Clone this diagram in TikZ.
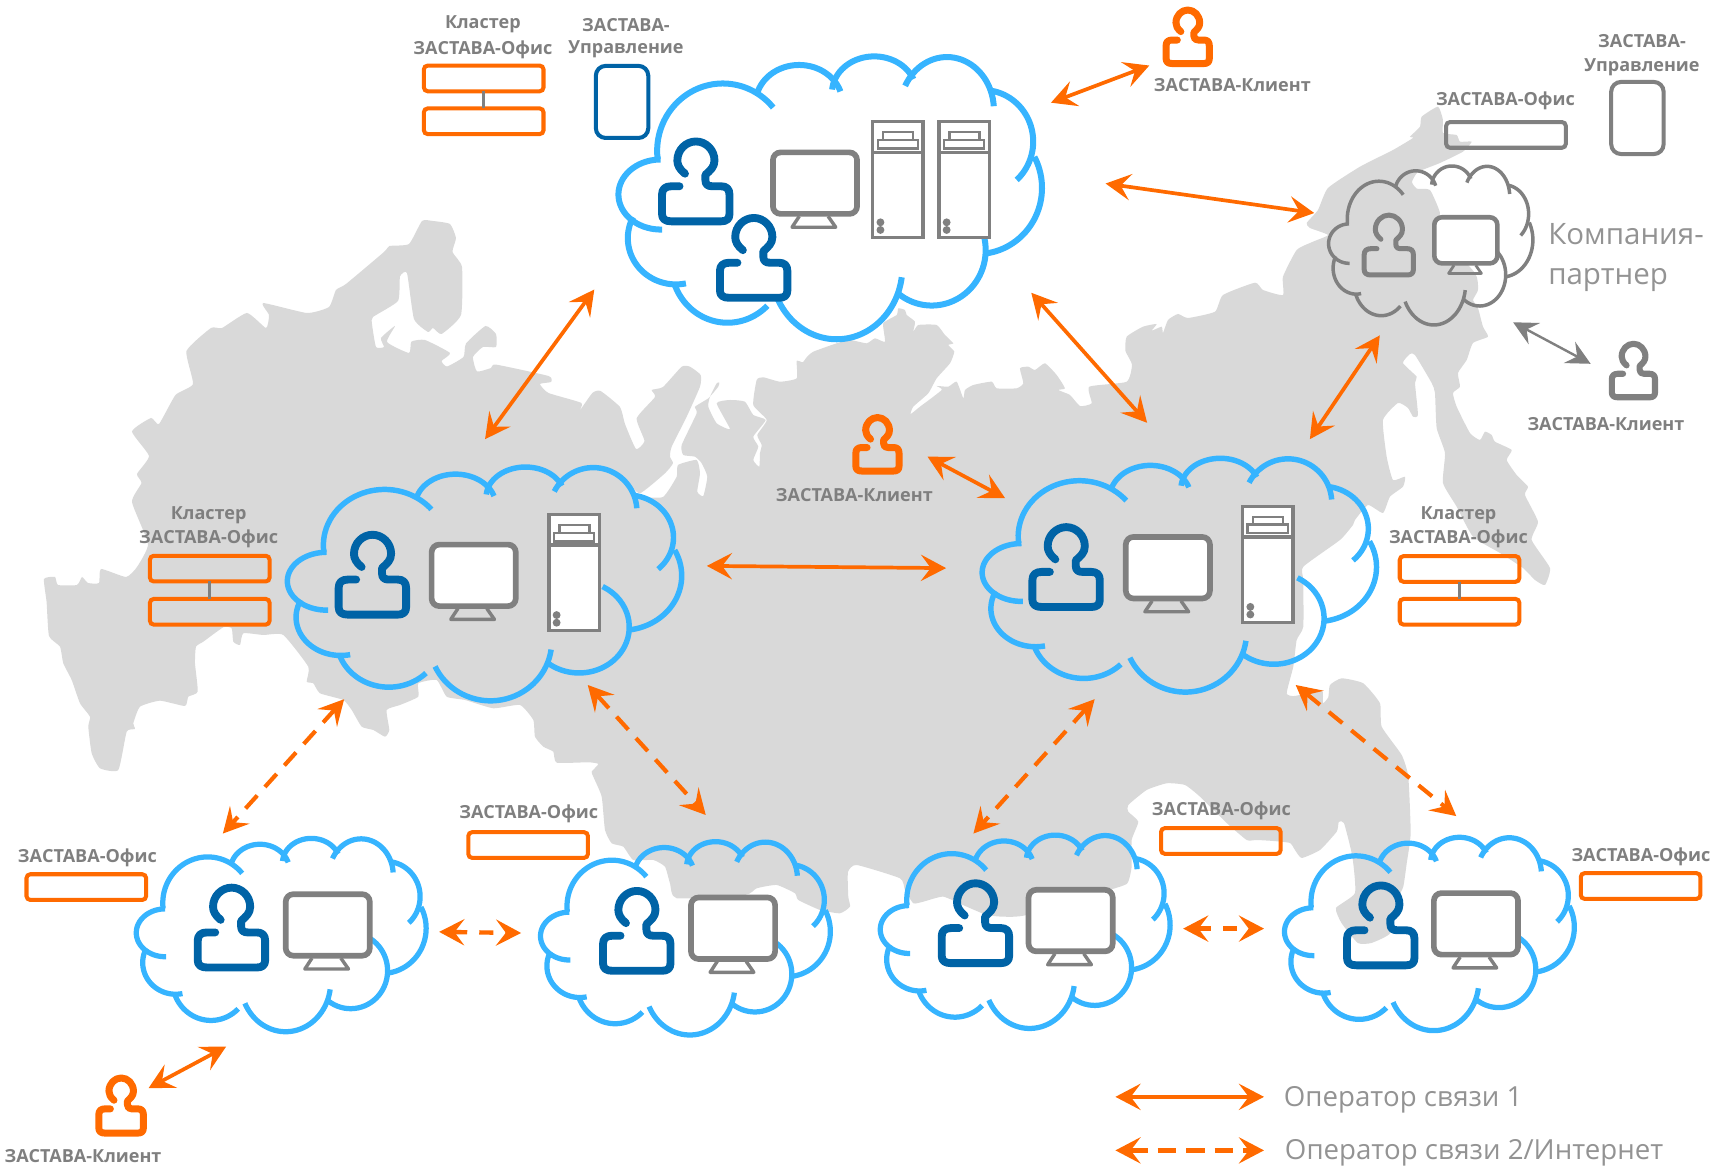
\documentclass[tikz,border=0pt]{standalone}
\usepackage{fontspec}
\setmainfont{Open Sans}
\usetikzlibrary{arrows.meta}
\definecolor{mapgray}{HTML}{D9D9D9}
\definecolor{cloudblue}{HTML}{36B4FF}
\definecolor{userblue}{HTML}{0063A6}
\definecolor{zorange}{HTML}{FF6A00}
\definecolor{zgray}{HTML}{808080}
\definecolor{txtgray}{HTML}{7F7F7F}
\tikzset{
  lab/.style={font=\fontsize{16.5}{18}\selectfont\bfseries, text=txtgray, inner sep=0pt, yshift=-1.5pt},
  bigtext/.style={font=\fontsize{#1}{#1}\selectfont, text=zgray!85, inner sep=0pt, anchor=west, yshift=-1.5pt},
  boxnode/.style={draw=#1, line width=3.7pt, rounded corners=3.5pt, minimum width=109.5pt, minimum height=23.5pt, inner sep=0pt, outer sep=0pt},
  tallnode/.style={draw=#1, line width=3.7pt, rounded corners=9pt, minimum width=48pt, minimum height=66pt, inner sep=0pt, outer sep=0pt},
  linkline/.style={draw=zgray, line width=2.8pt},
  biarrow/.style={draw=zorange, line width=3.4pt, {Stealth[length=23pt,width=24pt,inset=9pt]}-{Stealth[length=23pt,width=24pt,inset=9pt]}},
  dasharrow/.style={biarrow, line width=3.8pt, dash pattern=on 16pt off 10.5pt},
  shortdash/.style={biarrow, line width=4pt, dash pattern=on 13pt off 11pt},
  grayarrow/.style={draw=zgray, line width=2.2pt, {Stealth[length=22pt,width=22pt,inset=8pt]}-{Stealth[length=22pt,width=22pt,inset=8pt]}},
}
\newcommand\LobeArc[6]{\draw plot[domain=#5:#6,samples=36,smooth] ({#1+#3*cos(\x)},{#2-#4*sin(\x)});}
% x y sx sy linewidth colour
\newcommand\CloudAt[6]{%
\begin{scope}[shift={(#1,#2)},xscale=#3,yscale=#4,line width=#5pt,draw=#6]
\LobeArc{37}{105}{36}{26.5}{90}{272}
\LobeArc{90}{72}{56}{51}{187}{40}
\LobeArc{155}{36}{37}{29}{165}{18}
\LobeArc{219}{28}{36}{27.5}{175}{22}
\LobeArc{281}{41}{40}{40}{153}{4}
\LobeArc{312}{65}{42.5}{39}{80}{-48}
\LobeArc{307}{100}{55}{50}{28}{-82}
\LobeArc{268}{147}{46}{42}{62}{-127}
\LobeArc{187}{160}{56}{54.5}{-8}{-155}
\LobeArc{94}{158}{48}{44}{-45}{-160}
\LobeArc{50}{138}{41}{35}{-78}{-207}
\end{scope}}
% x y sx sy colour linewidth
\newcommand\UserAt[6]{%
\begin{scope}[shift={(#1,#2)},xscale=#3,yscale=#4]
\draw[draw=#5,line width=#6pt,line cap=round,line join=round]
 (24,32) .. controls (19,28) and (17,24) .. (17,20) .. controls (17,10) and (25,2.5) .. (34,2.5)
 .. controls (43,2.5) and (51,10) .. (51,20) .. controls (51,26) and (47,29) .. (42.7,33)
 -- (42.7,38) .. controls (42.7,42) and (45,43.5) .. (49,43.5) -- (57,43.5)
 .. controls (62,43.5) and (64.7,46) .. (64.7,51) -- (64.7,69)
 .. controls (64.7,73.5) and (62,75.6) .. (57,75.6) -- (11.5,75.6)
 .. controls (6,75.6) and (3,73.5) .. (3,69) -- (3,51)
 .. controls (3,46) and (6,43.5) .. (11.5,43.5) -- (19,43.5);
\end{scope}}
% x y scale linewidth
\newcommand\MonitorAt[4]{%
\begin{scope}[shift={(#1,#2)},scale=#3]
\draw[draw=zgray,line width=0.6*#4pt,line join=round] (26.6,61) -- (20,71) -- (60,71) -- (53,61);
\draw[draw=zgray,fill=white,line width=#4pt,rounded corners=7pt] (2.5,2.5) rectangle (79.5,58.8);
\end{scope}}
\newcommand\ServerAt[2]{%
\begin{scope}[shift={(#1,#2)}]
\draw[draw=zgray,fill=white,line width=3pt] (1.5,1.5) rectangle (47.5,107.5);
\draw[draw=zgray,line width=3.2pt] (1.5,29.5) -- (47.5,29.5);
\draw[draw=zgray,line width=2.2pt] (6,18.2) rectangle (42.7,26);
\draw[draw=zgray,line width=2.2pt] (11,11) rectangle (38.5,18.2);
\fill[zgray] (8.5,93.5) circle (3.6pt) (8.5,100.5) circle (3.6pt);
\end{scope}}
\begin{document}
\begin{tikzpicture}[x=1pt,y=-1pt]
\useasboundingbox (0,0) rectangle (1568,1067.3);
% --- map ---
\begin{scope}[scale=0.91533]
\fill[mapgray] plot[smooth cycle,tension=0.3] coordinates {
(44,579) (55,577) (58,585) (77,585) (82,577) (88,583) (99,583) (101,569) (126,577) (137,567) (148,544) (132,502) (141.5,483) (137,474) (149,456) (132,431.5) (151,418) (159,424) (175.5,395) (193,384) (186.5,351) (211,328) (222,328) (247,313) (266,328) (269,315) (263,303) (307,313) (329,307) (336,290) (346,284) (384,252) (389.5,246) (409,244) (422,221) (433,221) (450,224) (456,238) (452.5,252) (462,267) (461,315) (441.6,334) (433,328) (428,332) (414,319) (407,273) (400,276.5) (398,301) (373,317) (372,324) (376,347) (384,347) (381,338) (395,326) (387,342) (409,353) (411.4,341.6) (425,340) (450,353) (441.6,361) (447,366.5) (463.5,357) (466,343.5) (485.5,326) (496,334) (496,347) (483,347) (473,357) (477,371.5) (491,368) (496,364.6) (548.5,376) (551,382) (540,384) (548.5,393) (581.5,403) (578.7,412) (592.4,393) (600.6,391) (620,407) (625,424) (636,449) (644.5,441) (636.7,418.3)
(655,397) (651.7,390) (663,387) (681.7,366.7) (690,366.7) (700.7,375) (700,386.7) (686.7,416.7) (671.7,446.7) (670,456.7) (673,463.3) (665,473.3) (640,493.3) (628,482) (640,496) (663,497) (676.7,476.7) (678,465) (696.7,460) (700,473.3) (697.3,491.7) (703.3,496) (707.3,476.7) (701.7,463.3) (695,456.7) (683.3,455) (681.7,445) (696.7,413.3) (695,406.7) (708.3,398.3) (718.3,386.7) (719.3,382.7) (716.7,383.3) (710,396.7) (708.3,406.7) (716.7,423.3) (730,429) (716.7,403.3) (730,400) (745,401.7) (753.3,415) (765.7,420) (753.3,436.7) (758.3,446.7) (753.3,460) (759.3,466.7) (760,453.3) (761.7,445) (757.3,435) (766.7,420) (753.3,405) (756.7,380) (763.3,377.3) (780,381.7) (796.7,378.3) (796.7,361) (802.7,362.3) (806.7,357.3) (813.3,351.7) (836.7,343.3) (850,340) (866.7,343.3) (875,338.3) (885,341.7) (883.3,323.3) (896.7,315) (898.3,308.3) (905,310) (906.7,315) (915,321.7) (913.3,331.7) (918.3,325) (936.7,325) (945,335) (953.3,343.3) (948.3,345) (954.3,351.7) (950,363.3) (936.7,378.3) (928.3,393.3) (913.3,406.7) (910.7,414) (920,406.7) (941.7,390) (936.7,386) (948.3,386.7) (956.7,381.7) (963.3,398.3) (965,390) (973.3,385) (991.7,381.7) (996.7,388.3) (1016.7,388.3) (1023.3,383.3) (1020,368.3) (1028.3,366.7) (1035,370) (1045,363.3) (1056.7,375) (1065,388.3) (1058.3,390) (1070,395) (1080,406) (1091.7,403.3) (1089.3,386.7) (1126.6,381.8) (1132,364.6) (1125.5,351) (1126.7,336.7)
(1143,326.7) (1156.7,324) (1151.7,330.7) (1161.7,326.7) (1163,333) (1168,320) (1178,314) (1188,318) (1215,311.7) (1223,295) (1255,282.7) (1263,290) (1283,295) (1283,276.7) (1296.7,250) (1313,241.7) (1328,235) (1310,228) (1306.7,223) (1318,210) (1328,188) (1360,166.7) (1393,150) (1413,138) (1410,136.7) (1420,126.7) (1421.7,116.7) (1438,106.7) (1443,120) (1443,133) (1456.7,135) (1460,141.7) (1471.7,141.7) (1463,151.7) (1440,163) (1418,172) (1412,182) (1417,188.7) (1430,190) (1440,213) (1435,226.7) (1425,235) (1435,230) (1475,273) (1478,290) (1473,300) (1478,308) (1483,326.7) (1488,336.7) (1473,343) (1466.7,360) (1458,373) (1460,386.7) (1453,393) (1456.7,406.7) (1470,433) (1480,440) (1485,431.7) (1491.7,435) (1495,441.7) (1511.7,450) (1506.7,460) (1516.7,475) (1528,486.7) (1525,495) (1538,521.7) (1531.7,540) (1550,568) (1545,585) (1535,580) (1523,568) (1500,553) (1473,536.7) (1456.7,506.7) (1443,483) (1445,453) (1436.7,428) (1435,393) (1431.7,383) (1415,355) (1410,354) (1403,363) (1416.7,376.7) (1415,383) (1418,415) (1413,416.7) (1408,408) (1398,403) (1383,420) (1386.7,456.7) (1393,480) (1405,476.7) (1403,486.7) (1390,496.7) (1383,513) (1368,505) (1355,520) (1353,525) (1340,540) (1303.3,566.7) (1303.3,580) (1303.3,626.7) (1296.7,640) (1293.3,666.7) (1286.7,693.3) (1295,696) (1321.7,690) (1323,703) (1328.3,697.3) (1330,685) (1341.7,678.3) (1363.3,683.3) (1380,703.3) (1381.7,726.7) (1401.7,755) (1408.3,776.7) (1410.7,833.3) (1406.8,863) (1403.3,886.7) (1396,903) (1390.5,933) (1371.4,943) (1357.8,943) (1341.5,923) (1336,908) (1355,893) (1352.4,856.7) (1344,823) (1338.8,822) (1336.7,831.7) (1320,850) (1301.7,858) (1295,850) (1290,843) (1273.3,841) (1256.7,840) (1246.7,840) (1226.7,823) (1200,796.7) (1185,785) (1166.7,783.3) (1146.7,790) (1128.3,805) (1128.3,811.7) (1138.3,821.7) (1131.7,840) (1131.7,866.7) (1128.3,881.7) (1120,886.7) (1026.7,915) (1003.3,916.7) (986.7,915) (966.7,906.7) (943.3,896.7) (923.3,901.7) (913.3,903.3) (905,890) (900,878.3)
(856.7,865) (848,872) (848.3,896.7) (850,906.7) (840,913.3) (820,910) (798.3,900) (795,893.3) (776.7,885) (756.7,888.3) (745,895) (676.7,898.3) (670,883.3) (665,866.7) (653.3,860) (633.3,860) (623.3,846.7) (611.7,843.3) (605,830) (601.7,796.7) (593.3,776.7) (591.7,771.7) (598.3,764) (588.3,762.3) (556.7,762.7) (553.3,751.7) (543.3,746.7) (535,736.7) (533.3,720) (520,705) (493.3,708.3) (465,700) (446.7,696.7) (436.7,680) (418.3,683.3) (418.3,696.7) (400,705) (386.7,710) (389.3,730) (385,736.7) (373.3,730) (361.7,726.7) (351.7,710) (343.3,700) (320,693.3) (313.3,683.3) (306.7,681.7) (308.3,666.7) (283.3,635) (263.3,635) (243.3,633.3) (240,645) (233.3,641.7) (231.7,628.3) (223.3,627.3) (203.3,641.7) (196,646.7) (195,663.3) (197.7,691.7) (188.3,696.7) (185,706) (160,700.7) (140,706.7) (133.3,723.3) (135,729) (126.7,731.7) (118.3,770) (100,768.3) (91.7,753.3) (88.3,726.7) (90,716.7) (80,703.3) (71.7,680) (63.3,663.3) (60,646.7) (49,636) (46.6,602)};
\end{scope}
% --- clouds ---
\CloudAt{565}{51}{1.074}{1.21}{5.5}{cloudblue}
\CloudAt{262}{427}{1}{1}{5}{cloudblue}
\CloudAt{898}{419}{1}{1}{5}{cloudblue}
\CloudAt{124}{767}{0.735}{0.827}{4.8}{cloudblue}
\CloudAt{494}{770}{0.735}{0.827}{4.8}{cloudblue}
\CloudAt{805}{764}{0.735}{0.827}{4.8}{cloudblue}
\CloudAt{1175}{766}{0.735}{0.827}{4.8}{cloudblue}
\CloudAt{1215.6}{151.6}{0.518}{0.68}{3.2}{zgray}
% --- users ---
\UserAt{603}{127}{1}{1}{userblue}{7.2}
\UserAt{656}{197}{1}{1}{userblue}{7.2}
\UserAt{307}{487}{1}{1}{userblue}{7.2}
\UserAt{942}{480}{1}{1}{userblue}{7.2}
\UserAt{178}{810}{1}{1}{userblue}{7.2}
\UserAt{549}{813}{1}{1}{userblue}{7.2}
\UserAt{859}{806}{1}{1}{userblue}{7.2}
\UserAt{1230}{808}{1}{1}{userblue}{7.2}
\UserAt{1246.5}{195}{0.73}{0.75}{zgray}{4.6}
\UserAt{1473.5}{313}{0.64}{0.67}{zgray}{5.6}
\UserAt{1065.5}{7.5}{0.64}{0.67}{zorange}{6.4}
\UserAt{781.5}{380.5}{0.64}{0.67}{zorange}{6.4}
\UserAt{88.5}{985}{0.66}{0.69}{zorange}{6.4}
% --- monitors ---
\MonitorAt{705}{137}{1}{5.2}
\MonitorAt{392.6}{496}{1}{5.2}
\MonitorAt{1028}{489}{1}{5.2}
\MonitorAt{259}{816}{1}{5.2}
\MonitorAt{630}{819}{1}{5.2}
\MonitorAt{939}{812}{1}{5.2}
\MonitorAt{1310}{815}{1}{5.2}
\MonitorAt{1311}{197}{0.75}{4.2}
% --- servers ---
\ServerAt{797.4}{110}
\ServerAt{858}{110}
\ServerAt{501}{469.5}
\ServerAt{1136}{462}
% --- boxes ---
\node[boxnode=zorange] (c1a) at (442.75,71.8) {};
\node[boxnode=zorange] (c1b) at (442.75,111) {};
\draw[linkline] (c1a) -- (c1b);
\node[boxnode=zorange] (c2a) at (192,520.5) {};
\node[boxnode=zorange] (c2b) at (192,560) {};
\draw[linkline] (c2a) -- (c2b);
\node[boxnode=zorange] (c3a) at (1336,520.8) {};
\node[boxnode=zorange] (c3b) at (1336,560) {};
\draw[linkline] (c3a) -- (c3b);
\node[boxnode=zorange] (o1) at (79,812) {};
\node[boxnode=zorange] (o2) at (483.4,773.5) {};
\node[boxnode=zorange] (o3) at (1117.5,769.8) {};
\node[boxnode=zorange] (o4) at (1501.7,811) {};
\node[boxnode=zgray] (o5) at (1378.5,123.5) {};
\node[tallnode=userblue] (m1) at (569.4,93.3) {};
\node[tallnode=zgray] (m2) at (1498.8,108) {};
% --- labels ---
\node[lab] (t1) at (442,21) {Кластер};
\node[lab] (t2) at (442,44) {ЗАСТАВА-Офис};
\node[lab] (t3) at (573,21) {ЗАСТАВА-};
\node[lab] (t4) at (573,44) {Управление};
\node[lab] (t5) at (1128,76) {ЗАСТАВА-Клиент};
\node[lab] (t6) at (1503,36) {ЗАСТАВА-};
\node[lab] (t7) at (1503,60) {Управление};
\node[lab] (t8) at (1378,91) {ЗАСТАВА-Офис};
\node[lab] (t9) at (1470,386.5) {ЗАСТАВА-Клиент};
\node[lab] (t10) at (782,451.5) {ЗАСТАВА-Клиент};
\node[lab] (t11) at (191,470) {Кластер};
\node[lab] (t12) at (191,492) {ЗАСТАВА-Офис};
\node[lab] (t13) at (1335,470) {Кластер};
\node[lab] (t14) at (1335,492) {ЗАСТАВА-Офис};
\node[lab] (t15) at (80,783.5) {ЗАСТАВА-Офис};
\node[lab] (t16) at (484,743.5) {ЗАСТАВА-Офис};
\node[lab] (t17) at (1118,741) {ЗАСТАВА-Офис};
\node[lab] (t18) at (1502,783) {ЗАСТАВА-Офис};
\node[lab] (t19) at (76,1056.5) {ЗАСТАВА-Клиент};
\node[bigtext=27] (t20) at (1417,213) {Компания-};
\node[bigtext=27] (t21) at (1417,255) {партнер};
\node[bigtext=25.3] (t22) at (1175,1005.5) {Оператор связи 1};
\node[bigtext=25.3] (t23) at (1176,1054) {Оператор связи 2/Интернет};
% --- connector ends ---
\coordinate (a1s) at (962,94);   \coordinate (a1e) at (1052,60);
\coordinate (a2s) at (1012,168); \coordinate (a2e) at (1203,195);
\coordinate (a3s) at (544,265);  \coordinate (a3e) at (444,402);
\coordinate (a4s) at (944,268);  \coordinate (a4e) at (1050,387);
\coordinate (a5s) at (1263,307); \coordinate (a5e) at (1199,402);
\coordinate (a6s) at (849,418);  \coordinate (a6e) at (920,456);
\coordinate (a7s) at (647,518);  \coordinate (a7e) at (866,520);
\coordinate (a8s) at (1385,295); \coordinate (a8e) at (1456,333);
\coordinate (a9s) at (315,640);  \coordinate (a9e) at (204,763);
\coordinate (a10s) at (538,627); \coordinate (a10e) at (646,746);
\coordinate (a11s) at (1002,640);\coordinate (a11e) at (891,763);
\coordinate (a12s) at (1186,627);\coordinate (a12e) at (1333,747);
\coordinate (a13s) at (402,853); \coordinate (a13e) at (477,854);
\coordinate (a14s) at (1083,850);\coordinate (a14e) at (1157,850);
\coordinate (a15s) at (207,958); \coordinate (a15e) at (136,996);
\coordinate (l1s) at (1021,1004);\coordinate (l1e) at (1157,1004);
\coordinate (l2s) at (1021,1053);\coordinate (l2e) at (1157,1053);
% --- arrows ---
\draw[biarrow] (a1s) -- (a1e);
\draw[biarrow] (a2s) -- (a2e);
\draw[biarrow] (a3s) -- (a3e);
\draw[biarrow] (a4s) -- (a4e);
\draw[biarrow] (a5s) -- (a5e);
\draw[biarrow] (a6s) -- (a6e);
\draw[biarrow] (a7s) -- (a7e);
\draw[grayarrow] (a8s) -- (a8e);
\draw[dasharrow] (a9s) -- (a9e);
\draw[dasharrow] (a10s) -- (a10e);
\draw[dasharrow] (a11s) -- (a11e);
\draw[dasharrow] (a12s) -- (a12e);
\draw[shortdash] (a13s) -- (a13e);
\draw[shortdash] (a14s) -- (a14e);
\draw[biarrow] (a15s) -- (a15e);
\draw[biarrow,line width=4pt] (l1s) -- (l1e);
\draw[biarrow,line width=4pt,dash pattern=on 17pt off 9pt] (l2s) -- (l2e);
\end{tikzpicture}
\end{document}
